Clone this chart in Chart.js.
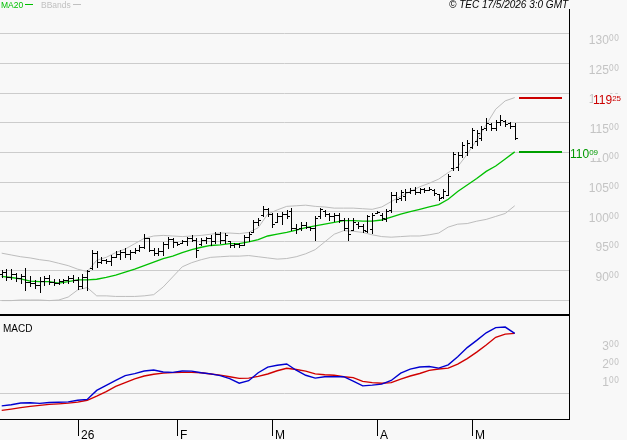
<!DOCTYPE html>
<html><head><meta charset="utf-8">
<script src="https://cdn.jsdelivr.net/npm/chart.js@4.4.0/dist/chart.umd.min.js"></script>
<style>html,body{margin:0;padding:0;background:#f8f8f8;overflow:hidden}canvas{display:block}</style>
</head><body>
<canvas id="c" width="627" height="440"></canvas>
<script>
// ---- daily OHLC bars (index 0 = first bar, ~9 Dec 2025) ----
const highs = [90.2,90.4,90.3,89.6,89.5,90.5,89.2,88.5,88.9,89.2,
 89.3,88.6,88.6,88.7,89.1,89.4,88.9,89.5,90.2,93.5,
 93.3,92.4,92.1,92.7,93.3,93.5,93.8,93.5,93.8,94.4,
 96.2,95.5,93.8,93.8,94.9,95.8,95.5,94.9,95.2,95.8,
 96.1,95.5,95.5,95.8,96.1,96.6,96.6,96.4,95.0,94.7,
 94.7,96.1,96.6,98.6,98.9,100.9,100.6,99.7,99.8,100.0,
 100.3,100.6,98.0,98.3,98.3,97.5,99.2,100.7,100.3,99.8,
 99.7,99.7,98.9,98.9,98.9,98.3,98.0,99.5,99.7,100.2,
 99.8,100.4,103.4,103.4,103.7,103.8,104.0,104.1,104.0,104.0,
 104.1,103.8,103.0,103.8,106.3,110.1,110.1,111.8,112.1,114.1,
 113.8,114.4,115.8,114.9,115.5,116.3,115.5,115.2,114.9];
const lows = [89.0,88.5,88.7,88.3,88.0,86.8,87.5,87.1,86.5,87.6,
 87.8,87.7,87.8,88.0,88.0,88.1,86.9,87.2,86.8,90.3,
 90.7,91.3,91.3,91.0,92.4,92.1,92.4,92.0,93.0,93.3,
 93.8,93.3,92.7,92.7,92.7,93.8,94.0,94.4,94.7,94.4,
 95.0,92.4,94.4,94.7,94.4,94.7,94.7,94.7,94.1,94.1,
 94.1,94.4,95.0,96.6,97.8,99.2,99.2,97.5,98.2,98.0,
 98.9,96.9,96.4,96.9,97.2,96.9,95.2,98.9,99.2,98.6,
 98.5,98.3,96.9,95.2,96.9,97.2,96.6,96.6,96.4,99.7,
 98.6,98.5,100.0,101.7,102.0,102.0,103.1,103.0,103.1,103.4,
 103.7,102.8,102.0,102.3,102.8,107.0,107.0,109.3,109.6,110.7,
 111.3,112.1,113.8,113.8,113.8,114.6,114.4,114.1,112.2];
const opens = [89.5,89.8,89.0,89.5,88.8,89.2,88.2,88.0,87.6,88.3,
 88.8,88.2,88.0,88.3,88.4,88.8,88.5,87.5,88.9,90.5,
 93.0,91.5,91.8,91.6,92.4,92.9,93.2,92.8,93.2,93.6,
 94.1,95.5,93.6,93.1,93.4,94.6,95.4,94.9,94.7,95.0,
 95.6,95.3,94.6,95.2,95.5,95.0,96.2,95.3,95.0,94.4,
 94.6,94.4,95.8,96.6,98.2,99.5,100.5,99.6,98.2,99.3,
 99.6,100.2,97.3,97.2,97.8,97.5,97.2,99.3,100.2,99.6,
 99.2,99.4,98.6,97.3,96.9,98.0,97.6,96.8,97.0,99.8,
 99.4,98.8,100.3,102.9,102.3,102.6,103.3,103.6,103.3,103.8,
 103.7,103.7,103.0,102.4,102.9,107.3,107.5,109.5,110.0,111.0,
 112.0,112.5,114.2,114.8,114.2,115.2,115.3,114.9,114.5];
const closes = [89.8,89.0,89.5,88.8,89.2,88.2,88.0,87.6,88.3,88.8,
 88.2,88.0,88.3,88.4,88.8,88.5,87.5,88.9,90.0,93.0,
 91.5,91.8,91.6,92.4,92.9,93.2,92.8,93.2,93.6,94.1,
 95.5,93.6,93.1,93.4,94.6,95.4,94.9,94.6,95.0,95.6,
 95.3,93.5,95.2,95.5,95.0,96.2,95.3,96.0,94.4,94.6,
 94.3,95.8,96.3,98.2,98.6,100.5,99.6,98.0,99.3,99.6,
 99.3,97.3,97.0,97.8,97.5,97.2,98.9,100.4,99.6,99.2,
 99.4,98.6,97.3,96.2,98.3,97.6,96.9,99.2,99.4,100.0,
 99.0,100.2,102.9,102.2,103.3,103.3,103.6,103.3,103.8,103.6,
 103.9,103.2,102.3,103.5,106.0,109.8,109.6,111.2,111.6,113.8,
 113.3,114.0,115.0,114.2,115.2,115.5,114.8,114.5,112.4];

// ---- indicator lines, read every second bar ----
const lineIdx = [0,2,4,6,8,10,12,14,16,18,20,22,24,26,28,30,32,34,36,38,40,42,44,46,48,50,52,54,
 56,58,60,62,64,66,68,70,72,74,76,78,80,82,84,86,88,90,92,94,96,98,100,102,104,106,108];
const ma20 = [89.1,88.9,88.65,88.3,88.2,88.2,87.95,88.2,88.5,88.5,88.6,88.9,89.3,89.8,90.3,90.9,91.5,92.1,92.5,93.1,93.6,94.0,94.3,94.4,94.6,94.6,94.9,95.3,
 95.9,96.2,96.5,96.9,97.3,97.6,97.9,98.2,98.5,98.5,98.4,98.4,98.6,99.1,99.6,100.0,100.4,100.8,101.2,102.1,103.4,104.5,105.6,106.8,107.7,108.9,110.09];
const bbUpper = [93.0,92.7,92.4,92.2,91.9,91.7,91.3,90.9,90.3,89.9,91.8,92.3,93.1,93.7,94.6,95.5,95.9,96.0,95.9,95.8,95.9,96.0,96.2,96.4,96.4,96.3,96.5,97.3,
 99.6,100.3,100.9,101.0,101.1,100.9,100.8,100.6,100.6,100.6,100.5,100.4,100.8,101.7,102.6,103.4,104.2,104.8,105.5,106.6,107.6,109.7,112.1,114.7,117.3,118.7,119.25];
const bbLower = [85.0,85.0,85.1,85.1,85.1,85.0,85.1,85.6,86.8,87.2,85.8,85.8,85.7,85.7,85.7,85.8,86.0,87.3,89.0,90.7,91.4,91.9,92.3,92.4,92.5,92.5,92.6,92.4,
 92.2,92.0,92.1,92.4,92.9,93.6,94.9,96.2,96.8,96.7,96.5,96.1,95.8,95.7,95.8,95.9,95.9,96.1,96.4,97.4,97.9,98.0,98.4,98.7,99.2,99.7,101.0];
const macd = [-0.66,-0.60,-0.50,-0.49,-0.52,-0.47,-0.46,-0.44,-0.35,-0.30,0.20,0.48,0.75,1.02,1.13,1.28,1.33,1.22,1.20,1.28,1.27,1.18,1.12,1.02,0.85,0.60,0.74,1.18,
 1.49,1.60,1.67,1.32,1.04,0.88,0.96,0.96,0.96,0.72,0.45,0.49,0.55,0.75,1.16,1.38,1.50,1.53,1.44,1.62,2.07,2.58,2.98,3.40,3.69,3.72,3.37];
const signal = [-0.91,-0.84,-0.76,-0.69,-0.63,-0.58,-0.55,-0.51,-0.45,-0.35,-0.12,0.13,0.42,0.63,0.84,1.00,1.10,1.16,1.19,1.20,1.20,1.18,1.11,1.05,0.96,0.87,0.88,0.98,
 1.11,1.29,1.43,1.36,1.27,1.12,1.07,1.04,0.96,0.91,0.70,0.63,0.60,0.63,0.83,1.00,1.14,1.31,1.39,1.44,1.66,1.97,2.33,2.72,3.15,3.33,3.37];

// ---- axis ticks / labels ----
const priceGridTicks = [85,90,95,100,105,110,115,120,125,130];
const priceLabelTicks = [90,95,100,105,110,115,120,125,130];
const macdGridTicks = [0];
const macdLabelTicks = [1,2,3];
const monthTickIdx = [16,37,57,79,99];
const monthLabels = ['26','F','M','A','M'];

const BG = '#f8f8f8';
const SANS = "'Liberation Sans', Arial, sans-serif";

function drawSplit(ctx, value, xLeft, xRight, baseMain, baseSup, mainFont, supFont, color) {
  const parts = value.toFixed(2).split('.');
  ctx.font = supFont; const ws = ctx.measureText(parts[1]).width;
  ctx.font = mainFont; const wm = ctx.measureText(parts[0]).width;
  const x0 = (xLeft !== null) ? xLeft : xRight - ws - wm;
  ctx.fillStyle = color; ctx.textAlign = 'left'; ctx.textBaseline = 'alphabetic';
  ctx.fillText(parts[0], x0, baseMain);
  ctx.font = supFont; ctx.fillText(parts[1], x0 + wm, baseSup);
  return {x0, w: wm + ws};
}

const custom = {
  id: 'custom',
  beforeDraw(chart) {
    const c = chart.ctx; c.save(); c.fillStyle = BG; c.fillRect(0, 0, chart.width, chart.height); c.restore();
  },
  afterDatasetsDraw(chart) {
    const {ctx, scales: {x, y}} = chart;
    ctx.save(); ctx.fillStyle = '#000';
    for (let i = 0; i < highs.length; i++) {
      const px = Math.round(x.getPixelForValue(i));
      const yh = Math.round(y.getPixelForValue(highs[i]));
      const yl = Math.round(y.getPixelForValue(lows[i]));
      const yo = Math.round(y.getPixelForValue(opens[i]));
      const yc = Math.round(y.getPixelForValue(closes[i]));
      ctx.fillRect(px, yh, 1, Math.max(1, yl - yh + 1));
      ctx.fillRect(px - 2, yo, 2, 1);
      ctx.fillRect(px + 1, yc, 2, 1);
    }
    ctx.restore();
  },
  afterDraw(chart) {
    const {ctx, scales: {x, y, y2}, chartArea: a} = chart;
    ctx.save();
    // frame
    ctx.fillStyle = '#000';
    ctx.fillRect(a.right, a.top, 1, a.bottom - a.top + 1);
    ctx.fillRect(0, Math.round(y2.top) - 1, a.right, 2);
    ctx.fillRect(0, a.bottom, a.right + 1, 1);
    // month ticks
    ctx.font = '12px ' + SANS; ctx.textAlign = 'left'; ctx.textBaseline = 'alphabetic';
    monthTickIdx.forEach((idx, k) => {
      const px = Math.round(x.getPixelForValue(idx));
      ctx.fillRect(px, a.bottom, 1, 17);
      ctx.fillText(monthLabels[k], px + 3, 438.5);
    });
    // price axis labels
    const gray = '#c4c4c4';
    priceLabelTicks.forEach(v => {
      const yv = Math.round(y.getPixelForValue(v));
      drawSplit(ctx, v, null, 619, yv + 10, yv + 7, '12px ' + SANS, "8px 'DejaVu Sans', sans-serif", gray);
    });
    macdLabelTicks.forEach(v => {
      const yv = Math.round(y2.getPixelForValue(v));
      drawSplit(ctx, v, null, 619, yv + 10, yv + 7, '12px ' + SANS, "8px 'DejaVu Sans', sans-serif", gray);
    });
    // last-value markers
    const last = highs.length - 1;
    const lx = Math.round(x.getPixelForValue(last));
    const markers = [
      {val: bbUpper[bbUpper.length - 1], line: '#cc0000', text: '#cc0000', lx: a.right + 24},
      {val: ma20[ma20.length - 1], line: '#00a000', text: '#009900', lx: a.right + 1}
    ];
    markers.forEach(m => {
      const yv = Math.round(y.getPixelForValue(m.val));
      ctx.fillStyle = m.line;
      ctx.fillRect(lx + 4, yv - 1, 43, 2);
      ctx.fillStyle = BG;
      ctx.fillRect(m.lx, yv - 4, 30, 10);
      drawSplit(ctx, m.val, m.lx, null, yv + 5.5, yv + 2.5, '12px ' + SANS, '8px ' + SANS, m.text);
    });
    // legend
    ctx.textAlign = 'left'; ctx.textBaseline = 'alphabetic';
    ctx.font = '8.5px ' + SANS;
    ctx.fillStyle = '#00c000'; ctx.fillText('MA20', 1, 7.5); ctx.fillRect(25, 4, 8, 1);
    ctx.fillStyle = '#c0c0c0'; ctx.fillText('BBands', 41, 7.5); ctx.fillRect(73, 4, 8, 1);
    ctx.fillStyle = '#000'; ctx.font = 'italic 10px ' + SANS;
    ctx.fillText('\u00A9 TEC 17/5/2026 3:0 GMT', 449, 7.5);
    ctx.font = '10px ' + SANS;
    ctx.fillText('MACD', 3, 331.5);
    ctx.restore();
  }
};

function lineDs(label, arr, color, axis, w) {
  return {label, data: lineIdx.map((v, k) => ({x: v, y: arr[k]})), borderColor: color,
    borderWidth: w, pointRadius: 0, tension: 0, fill: false, yAxisID: axis};
}

new Chart(document.getElementById('c').getContext('2d'), {
  type: 'line',
  data: { datasets: [
    lineDs('MA20', ma20, '#00c000', 'y', 1.3),
    lineDs('BB upper', bbUpper, '#bdbdbd', 'y', 1),
    lineDs('BB lower', bbLower, '#bdbdbd', 'y', 1),
    lineDs('MACD', macd, '#0000d0', 'y2', 1.4),
    lineDs('Signal', signal, '#d00000', 'y2', 1.4)
  ]},
  options: {
    responsive: false, animation: false, devicePixelRatio: 1, events: [],
    layout: {padding: {top: 9, left: 0, right: 0, bottom: 0}},
    plugins: {legend: {display: false}, tooltip: {enabled: false}},
    scales: {
      x: {type: 'linear', min: -0.36, max: 119.43, grid: {display: false}, border: {display: false},
          ticks: {display: false}, afterFit(s) { s.height = 21; }},
      y: {type: 'linear', position: 'right', stack: 'v', stackWeight: 306, min: 82.57, max: 134.2,
          grid: {color: '#cccccc', drawTicks: false}, border: {display: false}, ticks: {display: false},
          afterBuildTicks(s) { s.ticks = priceGridTicks.map(v => ({value: v})); },
          afterFit(s) { s.width = 58; }},
      y2: {type: 'linear', position: 'right', stack: 'v', stackWeight: 104, min: -1.39, max: 4.39,
          grid: {color: '#cccccc', drawTicks: false}, border: {display: false}, ticks: {display: false},
          afterBuildTicks(s) { s.ticks = macdGridTicks.map(v => ({value: v})); },
          afterFit(s) { s.width = 58; }}
    }
  },
  plugins: [custom]
});
</script>
</body></html>
